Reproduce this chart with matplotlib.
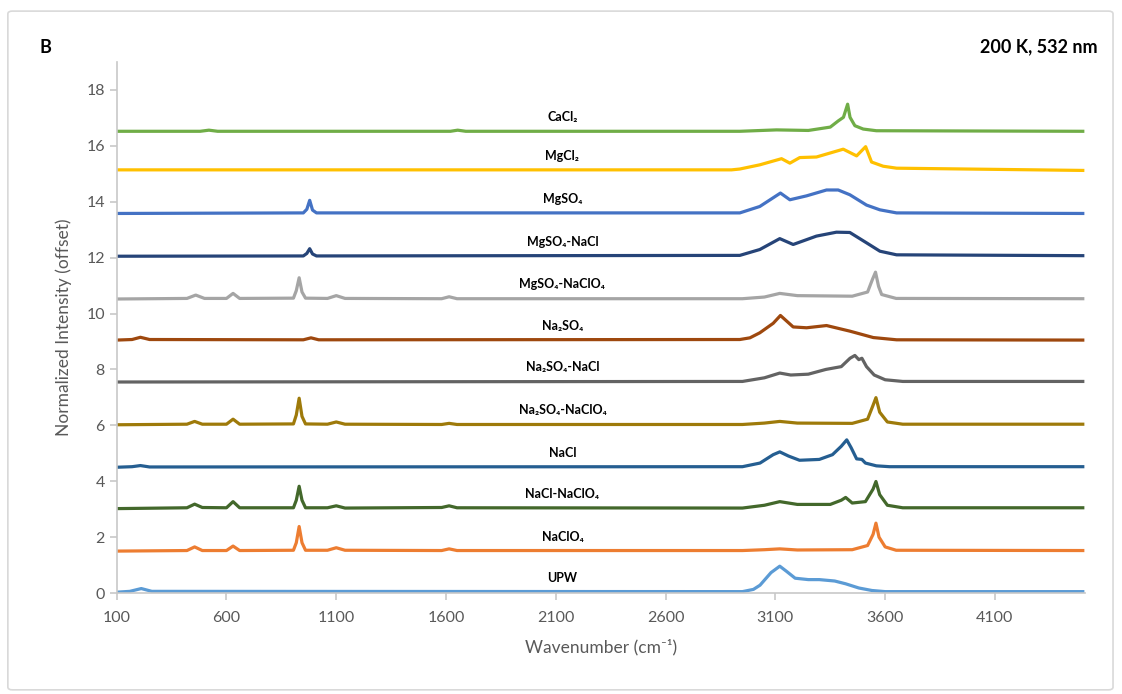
import matplotlib.pyplot as plt
from matplotlib.patches import FancyBboxPatch

# spectra: wavenumber (cm-1) and intensity above baseline
upw_wn = [100, 160, 212, 260, 2950, 3000, 3030, 3080, 3120, 3150, 3190, 3250, 3300, 3370, 3420, 3480, 3540, 3600, 4500]
upw_int = [0, 0.03, 0.13, 0.03, 0.02, 0.1, 0.25, 0.7, 0.93, 0.75, 0.5, 0.45, 0.45, 0.4, 0.3, 0.15, 0.06, 0.02, 0.02]

naclo4_wn = [100, 420, 455, 490, 600, 630, 660, 905, 918, 931, 944, 960, 1060, 1100, 1140, 1580, 1614, 1650,
             2950, 3050, 3120, 3200, 3450, 3520, 3545, 3558, 3572, 3600, 3650, 4500]
naclo4_int = [0, 0.02, 0.15, 0.02, 0.02, 0.18, 0.02, 0.03, 0.3, 0.88, 0.3, 0.03, 0.03, 0.12, 0.03, 0.02, 0.08, 0.02,
              0.02, 0.05, 0.08, 0.04, 0.05, 0.2, 0.6, 1.0, 0.5, 0.15, 0.03, 0.02]

nacl_naclo4_wn = [100, 420, 455, 490, 600, 630, 660, 905, 918, 931, 944, 960, 1060, 1100, 1140, 1580, 1614, 1650,
                  2950, 3050, 3120, 3200, 3350, 3400, 3420, 3450, 3510, 3545, 3558, 3575, 3610, 3680, 4500]
nacl_naclo4_int = [0, 0.03, 0.16, 0.04, 0.03, 0.25, 0.03, 0.03, 0.3, 0.8, 0.3, 0.03, 0.03, 0.1, 0.02, 0.04, 0.1, 0.03,
                   0.02, 0.12, 0.25, 0.15, 0.15, 0.3, 0.4, 0.2, 0.25, 0.7, 0.97, 0.5, 0.12, 0.03, 0.03]

nacl_wn = [100, 170, 208, 250, 2950, 3030, 3090, 3120, 3160, 3210, 3300, 3360, 3400, 3425, 3445, 3470, 3494, 3510,
           3560, 3620, 4500]
nacl_int = [0, 0.02, 0.06, 0.01, 0.02, 0.15, 0.45, 0.55, 0.4, 0.25, 0.28, 0.45, 0.75, 0.98, 0.7, 0.3, 0.28, 0.15,
            0.05, 0.02, 0.02]

na2so4_naclo4_wn = [100, 420, 455, 490, 600, 630, 660, 905, 918, 931, 944, 960, 1060, 1100, 1140, 1580, 1614, 1650,
                    2950, 3050, 3120, 3200, 3450, 3520, 3545, 3558, 3575, 3610, 3680, 4500]
na2so4_naclo4_int = [0, 0.02, 0.12, 0.02, 0.02, 0.2, 0.02, 0.03, 0.35, 0.95, 0.3, 0.03, 0.02, 0.1, 0.02, 0.01, 0.05, 0.01,
                     0.01, 0.06, 0.12, 0.06, 0.05, 0.2, 0.7, 0.97, 0.45, 0.1, 0.02, 0.02]

na2so4_nacl_wn = [100, 2950, 3050, 3120, 3170, 3250, 3330, 3400, 3440, 3462, 3480, 3494, 3515, 3550, 3600, 3680, 4500]
na2so4_nacl_int = [0, 0.02, 0.15, 0.32, 0.25, 0.28, 0.45, 0.55, 0.85, 0.95, 0.8, 0.85, 0.55, 0.25, 0.08, 0.02, 0.02]

na2so4_wn = [100, 170, 208, 250, 950, 985, 1020, 2938, 2984, 3029, 3090, 3123, 3181, 3242, 3333, 3439, 3546, 3652, 4500]
na2so4_int = [0, 0.02, 0.1, 0.02, 0.01, 0.08, 0.01, 0.02, 0.08, 0.26, 0.6, 0.88, 0.47, 0.44, 0.52, 0.32, 0.09, 0.01, 0.0]

mgso4_naclo4_wn = [100, 420, 460, 500, 600, 630, 660, 905, 918, 931, 944, 960, 1060, 1100, 1140, 1580, 1614, 1650,
                   2950, 3050, 3120, 3200, 3450, 3520, 3542, 3556, 3570, 3584, 3650, 4500]
mgso4_naclo4_int = [0, 0.02, 0.14, 0.02, 0.02, 0.2, 0.02, 0.03, 0.3, 0.76, 0.25, 0.03, 0.02, 0.12, 0.02, 0.01, 0.08, 0.01,
                    0.01, 0.07, 0.2, 0.12, 0.1, 0.25, 0.7, 0.96, 0.45, 0.16, 0.02, 0.01]

mgso4_nacl_wn = [100, 950, 966, 979, 992, 1010, 2938, 3029, 3120, 3181, 3287, 3378, 3439, 3515, 3576, 3652, 4500]
mgso4_nacl_int = [0, 0.01, 0.1, 0.27, 0.08, 0.01, 0.03, 0.24, 0.63, 0.42, 0.72, 0.86, 0.85, 0.48, 0.18, 0.05, 0.02]

mgso4_wn = [100, 950, 966, 979, 992, 1010, 2938, 3029, 3123, 3166, 3242, 3333, 3386, 3439, 3515, 3576, 3652, 4500]
mgso4_int = [0, 0.02, 0.15, 0.47, 0.12, 0.02, 0.02, 0.25, 0.73, 0.49, 0.63, 0.84, 0.84, 0.67, 0.3, 0.13, 0.02, 0.0]

mgcl2_wn = [100, 2900, 2938, 3029, 3128, 3166, 3211, 3287, 3409, 3470, 3511, 3538, 3591, 3652, 4500]
mgcl2_int = [0.02, 0.02, 0.05, 0.2, 0.42, 0.26, 0.46, 0.48, 0.76, 0.52, 0.85, 0.3, 0.15, 0.08, 0.0]

cacl2_wn = [100, 480, 520, 560, 1620, 1653, 1690, 2938, 3105, 3250, 3350, 3386, 3410, 3429, 3440, 3462, 3500, 3560, 4500]
cacl2_int = [0, 0.0, 0.04, 0.0, 0.0, 0.04, 0.0, 0.0, 0.05, 0.03, 0.15, 0.37, 0.5, 0.97, 0.5, 0.2, 0.08, 0.02, 0.0]

names = ["UPW", "NaClO₄", "NaCl-NaClO₄", "NaCl", "Na₂SO₄-NaClO₄", "Na₂SO₄-NaCl", "Na₂SO₄",
         "MgSO₄-NaClO₄", "MgSO₄-NaCl", "MgSO₄", "MgCl₂", "CaCl₂"]
offsets = [0.03, 1.5, 3.02, 4.5, 6.02, 7.55, 9.05, 10.52, 12.05, 13.58, 15.12, 16.52]
colores = ["#5B9BD5", "#ED7D31", "#43682B", "#255E91", "#9E7A0A", "#636363", "#9E480E",
           "#A5A5A5", "#264478", "#4472C4", "#FFC000", "#70AD47"]

espectros = [(upw_wn, upw_int), (naclo4_wn, naclo4_int), (nacl_naclo4_wn, nacl_naclo4_int),
             (nacl_wn, nacl_int), (na2so4_naclo4_wn, na2so4_naclo4_int), (na2so4_nacl_wn, na2so4_nacl_int),
             (na2so4_wn, na2so4_int), (mgso4_naclo4_wn, mgso4_naclo4_int), (mgso4_nacl_wn, mgso4_nacl_int),
             (mgso4_wn, mgso4_int), (mgcl2_wn, mgcl2_int), (cacl2_wn, cacl2_int)]

plt.rcParams['font.family'] = ['Lato', 'DejaVu Sans']

fig = plt.figure(figsize=(11.22, 6.94), dpi=100)
ax = fig.add_axes([0.104, 0.1455, 0.863, 0.7652])

# marco exterior del grafico
fig.patches.append(FancyBboxPatch((0.007, 0.006), 0.985, 0.978, boxstyle="round,pad=0,rounding_size=0.004",
                                  transform=fig.transFigure, facecolor='none', edgecolor='#D9D9D9', lw=1.2))

for (wn, inten), off, col, nom in zip(espectros, offsets, colores, names):
    ax.plot(wn, [v + off for v in inten], color=col, lw=2.3, solid_joinstyle='round')
    ax.text(2130, off + 0.52, nom, ha='center', va='center', fontsize=9, fontweight='bold', color='black')

ax.set_xlim(100, 4510)
ax.set_ylim(0, 19)
ax.set_xticks(range(100, 4500, 500))
ax.set_yticks(range(0, 19, 2))
for s in ['top', 'right']:
    ax.spines[s].set_visible(False)
for s in ['left', 'bottom']:
    ax.spines[s].set_color('#C8C8C8')
    ax.spines[s].set_linewidth(1.2)
ax.tick_params(colors='#C8C8C8', labelcolor='#595959', labelsize=11.5, length=5, width=1.2)
ax.tick_params(axis='x', pad=8)

ax.set_xlabel('Wavenumber (cm⁻¹)', fontsize=12.5, color='#595959', labelpad=10)
ax.set_ylabel('Normalized Intensity (offset)', fontsize=12.5, color='#595959', labelpad=10)

fig.text(0.035, 0.932, 'B', fontsize=13, fontweight='bold', va='center')
fig.text(0.978, 0.932, '200 K, 532 nm', fontsize=13, fontweight='bold', va='center', ha='right')

fig.savefig('out.png', dpi=100)
